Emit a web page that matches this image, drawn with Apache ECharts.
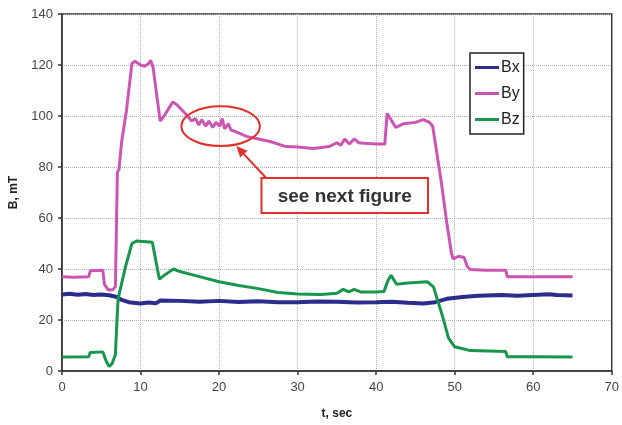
<!DOCTYPE html>
<html>
<head>
<meta charset="utf-8">
<script src="https://cdn.jsdelivr.net/npm/echarts@6/dist/echarts.min.js"></script>
<style>
html,body{margin:0;padding:0;background:#fff;}
#c{width:622px;height:425px;}
</style>
</head>
<body>
<div id="c"></div>
<script>
var seriesNames = ['Bx', 'By', 'Bz'];
var xTicks = [0, 10, 20, 30, 40, 50, 60, 70];
var yTicks = [0, 20, 40, 60, 80, 100, 120, 140];

var bx = [[0,30],[1,30.3],[2,29.9],[3,30.2],[4,29.8],[5,30],[6,29.7],[7,29],[7.5,28],[8.5,27],[10,26.5],[11,26.9],[12,26.6],[12.5,27.6],[15,27.5],[17.5,27.2],[20,27.5],[22.5,27.1],[25,27.4],[27.5,27],[30,27],[32.5,27.3],[35,27.2],[37.5,26.9],[40,27],[42,27.2],[44,26.8],[46,26.5],[47.5,27],[49,28.3],[51,29],[53,29.5],[56,29.8],[58,29.5],[60,29.8],[62,30.1],[63,29.8],[65,29.6]];

var by = [[0,37],[1.5,36.8],[3.4,37],[3.6,39.3],[5.2,39.5],[5.4,34],[5.9,31.8],[6.5,32],[6.8,33],[6.95,60],[7.05,78],[7.25,79],[7.6,90],[8.2,102],[8.9,120.5],[9.3,121.5],[10,120],[10.5,119.5],[11,120.5],[11.3,121.8],[11.6,119],[12.5,98],[13,100],[14.1,105.5],[14.6,104.5],[16,100],[16.5,98],[17,99],[17.4,96.5],[17.8,98.5],[18.3,96],[18.7,98],[19.2,95.5],[19.6,97.5],[20.1,96],[20.4,99],[20.7,95],[21.2,97],[21.5,94.5],[22,94],[23.5,92],[25,91],[26.5,90],[28.5,88],[30,87.8],[32,87.3],[34,88],[35,89.5],[35.5,88.5],[36,91],[36.6,89],[37.2,91],[37.8,89.5],[38.5,89.3],[40,89],[41.1,89],[41.4,101],[41.8,99],[42.5,95.5],[43.5,97],[45,97.5],[46,98.6],[46.8,97.5],[47.2,96],[48.3,74],[49,58],[49.6,46],[49.8,44],[50.5,45],[51.2,44.5],[51.6,41],[52,39.8],[54,39.5],[56.5,39.5],[56.7,37],[60,37],[65,37]];

var bz = [[0,5.5],[3.4,5.6],[3.6,7.3],[5.2,7.5],[5.6,4],[6,1.8],[6.4,3],[6.8,6.5],[7.0,20],[7.15,28.5],[8.1,41],[8.9,50],[9.5,51],[11.5,50.5],[12.4,36],[13,37.5],[14.2,40],[15,39],[17.5,37],[20,35],[22.5,33.5],[25,32.3],[27.5,30.8],[30,30.2],[33,30],[35,30.5],[35.8,32],[36.5,31],[37.2,32],[38,31],[40,31],[41,31.2],[41.5,35.5],[41.9,37.5],[42.6,34],[44,34.5],[46.5,35],[47.3,33],[48.5,21],[49.2,13],[50,9.5],[52,8],[56.5,7.6],[56.7,5.6],[60,5.6],[65,5.5]];

var annotationText = 'see next figure';

var chart = echarts.init(document.getElementById('c'), null, {renderer: 'canvas'});
var colors = ['#2b2d8c', '#cc55b4', '#17964c'];
var font = 'Liberation Sans, Arial, sans-serif';

chart.setOption({
  animation: false,
  backgroundColor: '#fff',
  grid: {left: 61, right: 9, top: 14, bottom: 54, show: true, borderColor: '#333', borderWidth: 1.5, backgroundColor: 'transparent'},
  xAxis: {
    type: 'value', min: xTicks[0], max: xTicks[xTicks.length-1], interval: 10,
    name: 't, sec', nameLocation: 'middle', nameGap: 37,
    nameTextStyle: {fontFamily: font, fontWeight: 'bold', fontSize: 12, color: '#222'},
    axisLine: {show: true, lineStyle: {color: '#333', width: 1.5}},
    axisTick: {show: true, inside: false, length: 4, lineStyle: {color: '#333', width: 1.5}},
    axisLabel: {fontFamily: font, fontSize: 13, color: '#444', margin: 10},
    splitLine: {show: true, lineStyle: {color: '#b0b0b0', type: 'dotted', width: 1}}
  },
  yAxis: {
    type: 'value', min: yTicks[0], max: yTicks[yTicks.length-1], interval: 20,
    name: 'B, mT', nameLocation: 'middle', nameGap: 42,
    nameTextStyle: {fontFamily: font, fontWeight: 'bold', fontSize: 12, color: '#222'},
    axisLine: {show: true, lineStyle: {color: '#333', width: 1.5}},
    axisTick: {show: true, inside: false, length: 4, lineStyle: {color: '#333', width: 1.5}},
    axisLabel: {fontFamily: font, fontSize: 13, color: '#444', margin: 9},
    splitLine: {show: true, lineStyle: {color: '#b0b0b0', type: 'dotted', width: 1}}
  },
  legend: {
    orient: 'vertical', left: 470, top: 53,
    data: seriesNames,
    borderColor: '#222', borderWidth: 1.5, backgroundColor: '#fff',
    padding: [4, 4, 4, 5], itemGap: 5,
    itemWidth: 24, itemHeight: 3, icon: 'rect',
    textStyle: {fontFamily: font, fontSize: 16, color: '#222', lineHeight: 21, padding: [0, 0, 0, -3]}
  },
  series: [
    {name: seriesNames[0], type: 'line', data: bx, symbol: 'none', lineStyle: {color: colors[0], width: 4}, itemStyle: {color: colors[0]}, z: 2},
    {name: seriesNames[1], type: 'line', data: by, symbol: 'none', lineStyle: {color: colors[1], width: 3}, itemStyle: {color: colors[1]}, z: 3},
    {name: seriesNames[2], type: 'line', data: bz, symbol: 'none', lineStyle: {color: colors[2], width: 3}, itemStyle: {color: colors[2]}, z: 3}
  ]
});

// annotation placed in data coordinates
var ann = {ellipseCenter: [20.2, 96], ellipseR: [5.0, 7.8], boxTL: [25.4, 75.7], boxBR: [46.6, 62], arrowFrom: [26.0, 75.7], arrowTo: [22.2, 88.2]};
function px(p) { return chart.convertToPixel({gridIndex: 0}, p); }
var c = px(ann.ellipseCenter);
var cr = px([ann.ellipseCenter[0] + ann.ellipseR[0], ann.ellipseCenter[1] + ann.ellipseR[1]]);
var rx = cr[0] - c[0], ry = c[1] - cr[1];
var tl = px(ann.boxTL), br = px(ann.boxBR);
var a0 = px(ann.arrowFrom), a1 = px(ann.arrowTo);
var dx = a1[0] - a0[0], dy = a1[1] - a0[1], L = Math.sqrt(dx*dx + dy*dy);
var ux = dx / L, uy = dy / L;
var hl = 11, hw = 5;
var base = [a1[0] - ux*hl, a1[1] - uy*hl];
var red = '#e0322b';
chart.setOption({
  graphic: [
    {type: 'ellipse', shape: {cx: c[0], cy: c[1], rx: rx, ry: ry}, style: {fill: 'none', stroke: red, lineWidth: 2}, z: 10},
    {type: 'line', shape: {x1: a0[0], y1: a0[1], x2: base[0], y2: base[1]}, style: {stroke: red, lineWidth: 2}, z: 10},
    {type: 'polygon', shape: {points: [a1, [base[0] - uy*hw, base[1] + ux*hw], [base[0] + uy*hw, base[1] - ux*hw]]}, style: {fill: red}, z: 10},
    {type: 'rect', shape: {x: tl[0], y: tl[1], width: br[0] - tl[0], height: br[1] - tl[1]}, style: {fill: '#fff', stroke: red, lineWidth: 2}, z: 10},
    {type: 'text', x: (tl[0] + br[0]) / 2, y: (tl[1] + br[1]) / 2 + 1, style: {text: annotationText, fill: '#333', font: 'bold 19px ' + font, textAlign: 'center', textVerticalAlign: 'middle'}, z: 11}
  ]
});
</script>
</body>
</html>
